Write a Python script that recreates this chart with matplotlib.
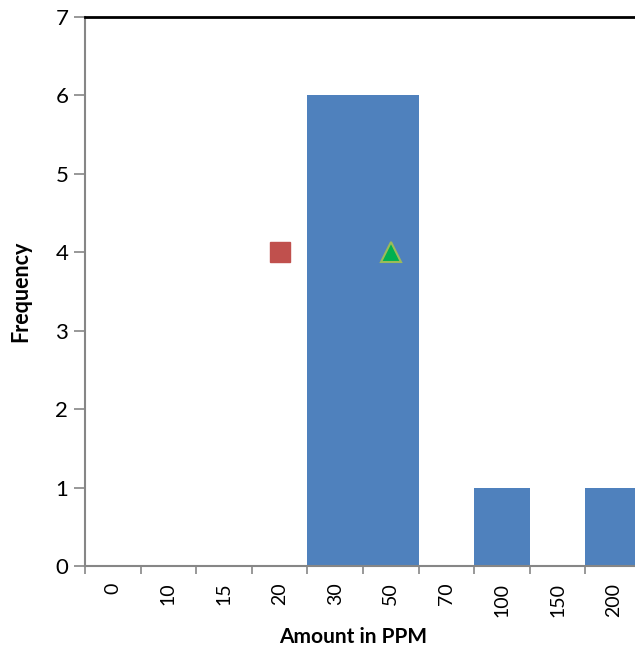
import matplotlib.pyplot as plt

# chart data
amounts = ['0', '10', '15', '20', '30', '50', '70', '100', '150', '200']
frequency = [0, 0, 0, 0, 6, 6, 0, 1, 0, 1]
square_cat = '20'
square_val = 4
triangle_cat = '50'
triangle_val = 4

plt.rcParams['font.family'] = ['Lato', 'DejaVu Sans']

fig = plt.figure(figsize=(6.35, 6.51), dpi=100)
ax = fig.add_axes([85/635, 85/651, 556/635, 549/651])

pos = list(range(len(amounts)))
ax.bar(pos, frequency, width=1.0, color='#4F81BD', zorder=2)

ax.plot(amounts.index(square_cat), square_val, marker='s', markersize=14,
        color='#C0504D', markeredgecolor='#C0504D', linestyle='none', zorder=3)
ax.plot(amounts.index(triangle_cat), triangle_val, marker='^', markersize=14,
        color='#00B050', markeredgecolor='#9BBB59', markeredgewidth=1.5,
        linestyle='none', zorder=3)

ax.set_xlim(-0.5, len(amounts) - 0.5)
ax.set_ylim(0, 7)

# category labels at centres, tick marks at boundaries
ax.set_xticks(pos)
ax.set_xticklabels(amounts, rotation=90, fontsize=14)
ax.tick_params(axis='x', which='major', length=0, pad=12)
ax.set_xticks([p - 0.5 for p in pos] + [len(amounts) - 0.5], minor=True)
ax.tick_params(axis='x', which='minor', length=6, color='#868686', width=1.2)

ax.set_yticks(range(8))
ax.tick_params(axis='y', length=8, color='#868686', width=1.2, labelsize=16, pad=4)

for s in ['left', 'bottom']:
    ax.spines[s].set_color('#868686')
    ax.spines[s].set_linewidth(1.5)
ax.spines['top'].set_color('black')
ax.spines['top'].set_linewidth(2)
ax.spines['right'].set_visible(False)

ax.set_xlabel('Amount in PPM', fontsize=15, fontweight='bold')
ax.xaxis.set_label_coords(268/556, -61/549)
ax.set_ylabel('Frequency', fontsize=15.5, fontweight='bold')
ax.yaxis.set_label_coords(-54/556, 0.5)

plt.savefig('out.png', dpi=100)
